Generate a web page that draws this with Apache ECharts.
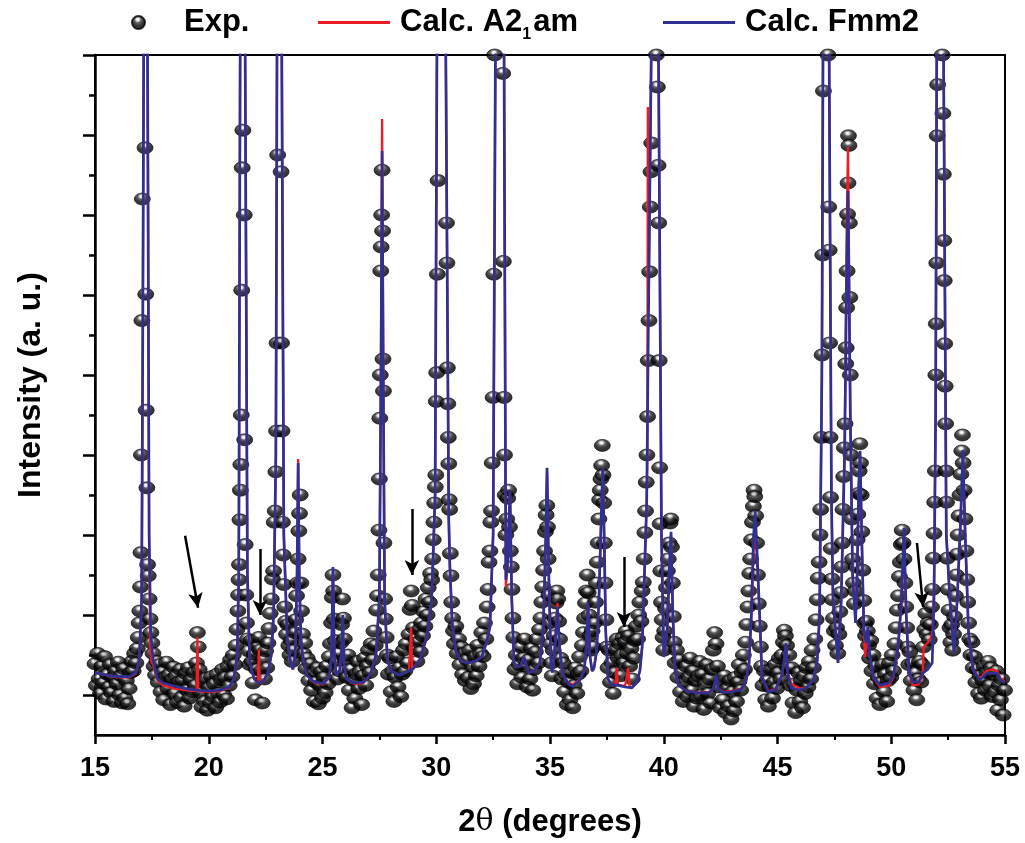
<!DOCTYPE html>
<html><head><meta charset="utf-8">
<script src="https://cdn.jsdelivr.net/npm/echarts@6/dist/echarts.min.js"></script>
<style>html,body{margin:0;padding:0;background:#fff}#c{width:1025px;height:843px}</style>
</head><body><div id="c"></div><script>
const xTickValues = [15,20,25,30,35,40,45,50,55];
const yMajorTicks = [0,10,20,30,40,50,60,70,80];
const yMinorTicks = [5,15,25,35,45,55,65,75];

const expData = [[15.00,3.9],[15.06,1.2],[15.12,5.2],[15.18,2.0],[15.24,0.2],[15.30,3.6],[15.36,1.5],[15.42,4.8],[15.48,-0.5],[15.54,2.6],[15.60,1.0],[15.66,3.8],[15.72,0.3],[15.78,2.2],[15.84,-0.8],[15.90,3.0],[15.96,1.4],[16.02,4.1],[16.08,0.0],[16.14,2.4],[16.20,-1.0],[16.26,3.3],[16.32,-0.4],[16.38,1.8],[16.44,-1.1],[16.50,0.8],[16.56,2.8],[16.62,4.2],[16.68,3.0],[16.74,5.2],[16.80,4.0],[16.86,5.8],[16.90,7.2],[16.94,9.0],[16.97,10.5],[17.00,13.5],[17.02,17.8],[17.04,30.0],[17.06,46.8],[17.08,62.0],[17.11,88],[17.14,105],[17.17,96],[17.20,68.4],[17.23,50.1],[17.25,35.6],[17.28,25.9],[17.31,16.3],[17.34,14.9],[17.38,12.0],[17.42,9.5],[17.46,7.8],[17.50,6.5],[17.55,5.2],[17.60,3.6],[17.66,2.5],[17.72,4.2],[17.78,1.6],[17.84,3.8],[17.90,0.4],[17.96,2.9],[18.02,-0.6],[18.08,2.2],[18.14,4.1],[18.20,0.8],[18.26,2.6],[18.32,-1.2],[18.38,1.9],[18.44,3.5],[18.50,0.2],[18.56,2.4],[18.62,-0.9],[18.68,1.6],[18.74,3.2],[18.80,-0.3],[18.86,1.8],[18.92,-1.4],[18.98,2.7],[19.04,0.6],[19.10,3.4],[19.16,-0.4],[19.22,1.9],[19.28,0.4],[19.34,2.8],[19.40,1.2],[19.46,4.0],[19.50,7.8],[19.54,6.0],[19.58,3.2],[19.64,0.3],[19.70,-1.5],[19.76,1.6],[19.82,-0.8],[19.88,2.1],[19.94,-1.9],[20.00,0.9],[20.06,-1.0],[20.12,2.3],[20.18,-0.2],[20.24,1.4],[20.30,-1.6],[20.36,2.6],[20.42,0.2],[20.48,-0.9],[20.54,1.9],[20.60,3.2],[20.66,0.0],[20.72,2.2],[20.78,-0.5],[20.84,3.6],[20.90,1.2],[20.96,4.4],[21.02,2.3],[21.08,5.0],[21.14,3.8],[21.20,6.2],[21.24,8.2],[21.28,10.5],[21.31,12.5],[21.33,14.4],[21.35,16.3],[21.37,21.9],[21.39,25.6],[21.41,28.8],[21.43,35.0],[21.45,50.6],[21.47,65.9],[21.50,70.6],[21.53,95],[21.56,60.0],[21.58,31.9],[21.60,18.8],[21.63,12.5],[21.66,9.0],[21.70,7.0],[21.75,5.5],[21.80,3.8],[21.86,6.8],[21.90,4.2],[21.95,1.5],[22.00,5.1],[22.05,-0.6],[22.10,3.2],[22.15,6.0],[22.20,7.2],[22.25,5.6],[22.30,3.0],[22.35,-1.0],[22.40,4.5],[22.45,2.0],[22.50,5.5],[22.55,3.4],[22.60,6.5],[22.65,8.3],[22.70,10.2],[22.75,12.0],[22.80,14.5],[22.85,15.5],[22.88,21.6],[22.92,23.0],[22.95,27.9],[22.98,33.0],[23.00,44.0],[23.03,67.5],[23.06,95],[23.10,120],[23.14,90],[23.18,65.4],[23.20,44.0],[23.22,33.0],[23.24,21.6],[23.27,17.5],[23.30,13.8],[23.34,11.0],[23.38,9.2],[23.42,7.6],[23.47,8.8],[23.52,6.2],[23.57,5.0],[23.62,6.8],[23.67,4.2],[23.72,5.6],[23.77,7.8],[23.82,9.4],[23.86,12.4],[23.90,14.0],[23.93,17.0],[23.96,20.5],[23.99,22.7],[24.02,25.0],[24.05,14.0],[24.08,10.5],[24.12,7.6],[24.17,5.2],[24.22,6.5],[24.27,3.3],[24.33,4.6],[24.40,1.8],[24.46,3.9],[24.52,0.6],[24.58,2.8],[24.64,-0.8],[24.70,1.6],[24.76,3.4],[24.82,-1.1],[24.88,1.2],[24.94,2.9],[25.00,-0.4],[25.06,2.2],[25.12,0.3],[25.18,3.6],[25.24,1.4],[25.30,4.8],[25.35,6.4],[25.40,9.0],[25.43,12.2],[25.46,15.0],[25.49,13.0],[25.52,9.5],[25.56,6.8],[25.60,4.2],[25.65,2.0],[25.70,5.2],[25.75,3.0],[25.80,6.5],[25.84,8.8],[25.88,12.0],[25.92,9.6],[25.96,7.0],[26.00,4.4],[26.06,2.2],[26.12,5.0],[26.18,0.6],[26.24,3.2],[26.30,-1.6],[26.36,1.8],[26.42,-0.4],[26.48,2.6],[26.54,4.2],[26.60,0.8],[26.66,3.0],[26.72,-1.2],[26.78,2.4],[26.84,4.6],[26.90,1.2],[26.96,3.6],[27.02,5.6],[27.08,2.8],[27.14,6.4],[27.20,4.4],[27.26,8.0],[27.32,6.2],[27.38,10.6],[27.42,12.4],[27.45,15.0],[27.48,20.6],[27.50,27.0],[27.52,34.6],[27.54,40.0],[27.56,53.0],[27.58,56.0],[27.60,60.0],[27.62,65.6],[27.64,58.0],[27.66,42.0],[27.68,38.0],[27.70,19.0],[27.73,12.0],[27.76,9.5],[27.80,7.2],[27.85,5.0],[27.90,2.6],[27.96,4.6],[28.02,0.4],[28.08,3.0],[28.14,-0.8],[28.20,2.2],[28.26,4.8],[28.32,1.0],[28.38,3.4],[28.44,-0.2],[28.50,2.6],[28.56,5.6],[28.62,3.0],[28.68,6.4],[28.74,4.0],[28.80,7.6],[28.85,10.7],[28.90,13.0],[28.95,11.2],[29.00,8.4],[29.05,5.8],[29.10,7.0],[29.15,4.2],[29.20,6.6],[29.25,8.2],[29.30,5.4],[29.35,9.0],[29.40,7.4],[29.45,10.4],[29.50,8.6],[29.55,12.0],[29.60,10.0],[29.65,13.4],[29.70,11.6],[29.75,15.2],[29.80,14.4],[29.84,17.0],[29.87,19.4],[29.90,21.6],[29.93,24.0],[29.96,26.0],[29.98,27.5],[30.00,36.7],[30.02,40.3],[30.05,52.6],[30.08,64.3],[30.15,95],[30.25,110],[30.35,90],[30.45,59.0],[30.47,54.0],[30.49,40.9],[30.51,36.4],[30.53,32.2],[30.55,28.9],[30.57,24.4],[30.59,23.2],[30.62,17.7],[30.65,14.9],[30.68,11.6],[30.72,9.6],[30.76,8.0],[30.80,6.4],[30.86,8.6],[30.92,5.2],[30.98,7.0],[31.04,3.8],[31.10,6.0],[31.16,2.6],[31.22,5.2],[31.28,1.8],[31.34,4.4],[31.40,2.2],[31.46,5.6],[31.52,0.8],[31.58,3.6],[31.64,1.4],[31.70,4.8],[31.76,2.4],[31.82,6.2],[31.88,3.6],[31.94,5.2],[32.00,7.8],[32.06,4.8],[32.12,9.0],[32.18,7.0],[32.24,11.0],[32.28,13.2],[32.32,16.6],[32.36,18.0],[32.40,21.6],[32.43,23.0],[32.46,29.0],[32.50,37.2],[32.53,52.6],[32.57,80.0],[32.65,100],[32.75,120],[32.85,100],[32.92,77.7],[32.95,54.2],[32.98,37.2],[33.00,30.0],[33.03,25.0],[33.06,20.0],[33.10,22.0],[33.14,24.6],[33.18,25.6],[33.22,21.0],[33.26,18.0],[33.30,16.0],[33.33,13.2],[33.37,9.6],[33.41,7.2],[33.46,3.2],[33.52,5.0],[33.58,1.4],[33.64,3.8],[33.70,6.0],[33.76,2.2],[33.82,4.6],[33.88,7.0],[33.94,3.6],[34.00,1.0],[34.06,4.4],[34.12,2.0],[34.18,5.8],[34.24,0.6],[34.30,3.2],[34.36,5.4],[34.42,7.0],[34.48,4.0],[34.54,8.2],[34.60,9.6],[34.64,11.6],[34.68,13.5],[34.72,15.6],[34.76,18.0],[34.80,20.4],[34.83,22.5],[34.86,23.7],[34.89,21.0],[34.92,17.0],[34.95,12.5],[34.98,9.0],[35.02,6.4],[35.06,4.0],[35.10,2.4],[35.14,5.6],[35.18,7.4],[35.22,9.6],[35.26,11.5],[35.30,13.0],[35.34,12.0],[35.38,9.2],[35.42,7.0],[35.47,4.6],[35.52,2.0],[35.58,4.0],[35.64,0.4],[35.70,2.6],[35.76,-1.2],[35.82,1.6],[35.88,-0.6],[35.94,2.8],[36.00,-1.6],[36.06,1.2],[36.12,3.4],[36.18,0.2],[36.24,2.6],[36.30,4.8],[36.36,3.0],[36.42,6.2],[36.47,7.8],[36.52,9.6],[36.56,11.5],[36.60,13.0],[36.64,15.0],[36.68,12.8],[36.72,10.0],[36.76,7.4],[36.80,5.6],[36.85,8.0],[36.90,6.0],[36.95,9.0],[37.00,11.6],[37.04,14.0],[37.08,16.6],[37.12,19.0],[37.15,22.0],[37.18,24.4],[37.21,25.6],[37.24,27.0],[37.27,28.7],[37.30,31.2],[37.33,27.5],[37.36,24.0],[37.39,19.0],[37.42,14.0],[37.46,9.4],[37.50,6.0],[37.55,3.4],[37.60,5.6],[37.66,1.6],[37.72,4.0],[37.78,0.2],[37.84,2.8],[37.90,5.6],[37.95,7.0],[38.00,4.6],[38.05,6.4],[38.10,2.4],[38.15,5.0],[38.20,7.2],[38.25,4.0],[38.30,6.6],[38.35,8.0],[38.40,5.2],[38.45,7.4],[38.50,3.6],[38.56,5.8],[38.62,2.0],[38.68,4.6],[38.74,6.8],[38.80,8.6],[38.85,7.0],[38.90,10.0],[38.95,11.6],[39.00,9.2],[39.05,13.0],[39.10,14.1],[39.14,17.0],[39.17,20.3],[39.20,23.0],[39.23,26.6],[39.26,30.0],[39.29,34.8],[39.32,41.8],[39.35,46.8],[39.38,52.9],[39.41,61.0],[39.44,65.4],[39.47,69.0],[39.52,90],[39.60,110],[39.68,80.0],[39.72,76.0],[39.75,66.2],[39.78,59.0],[39.80,41.8],[39.82,28.4],[39.84,21.4],[39.87,15.5],[39.90,11.6],[39.93,9.4],[39.97,7.2],[40.00,5.6],[40.04,8.0],[40.08,10.8],[40.12,13.4],[40.16,15.5],[40.20,17.0],[40.24,19.0],[40.28,21.5],[40.31,22.0],[40.34,18.5],[40.38,14.0],[40.42,9.8],[40.46,6.6],[40.50,4.0],[40.56,5.6],[40.62,2.2],[40.68,4.4],[40.74,0.4],[40.80,2.8],[40.86,-0.8],[40.92,1.6],[40.98,3.6],[41.04,-0.2],[41.10,2.2],[41.16,4.6],[41.22,0.6],[41.28,3.0],[41.34,-1.4],[41.40,1.8],[41.46,-0.4],[41.52,2.4],[41.58,4.2],[41.64,0.0],[41.70,2.6],[41.76,-1.8],[41.82,1.4],[41.88,3.8],[41.94,0.2],[42.00,2.0],[42.06,-1.0],[42.12,3.2],[42.18,5.6],[42.24,7.8],[42.30,6.4],[42.36,3.6],[42.42,1.0],[42.48,-1.6],[42.54,1.8],[42.60,-0.6],[42.66,2.4],[42.72,-2.2],[42.78,0.8],[42.84,-1.4],[42.90,1.8],[42.96,-3.0],[43.02,0.4],[43.08,-2.0],[43.14,2.2],[43.20,-0.8],[43.26,1.6],[43.32,3.8],[43.38,0.6],[43.44,2.8],[43.50,5.0],[43.55,3.2],[43.60,6.6],[43.65,8.8],[43.70,11.0],[43.74,13.0],[43.78,15.2],[43.82,17.0],[43.86,19.4],[43.90,21.6],[43.94,23.6],[43.97,25.6],[44.00,24.8],[44.04,22.4],[44.08,19.0],[44.12,15.0],[44.16,11.4],[44.20,8.6],[44.25,6.0],[44.30,3.6],[44.36,1.2],[44.42,3.0],[44.48,-0.6],[44.54,1.8],[44.60,-1.4],[44.66,1.0],[44.72,3.2],[44.78,-0.4],[44.84,1.6],[44.90,3.8],[44.96,0.8],[45.02,2.8],[45.08,4.6],[45.14,2.0],[45.20,5.0],[45.26,6.6],[45.30,8.1],[45.35,7.4],[45.40,6.2],[45.45,3.4],[45.50,5.0],[45.56,1.2],[45.62,3.4],[45.68,-1.0],[45.74,1.4],[45.80,-2.2],[45.86,0.6],[45.92,2.8],[45.98,-0.8],[46.04,1.8],[46.10,-1.6],[46.16,2.4],[46.22,0.2],[46.28,3.4],[46.34,1.0],[46.40,4.2],[46.46,2.0],[46.52,5.6],[46.58,3.4],[46.64,7.0],[46.70,9.4],[46.75,11.9],[46.79,14.6],[46.83,16.6],[46.87,20.0],[46.90,23.2],[46.93,32.2],[46.96,42.5],[46.99,55.0],[47.02,75.5],[47.06,95],[47.12,115],[47.18,95],[47.22,80.0],[47.25,61.0],[47.27,55.6],[47.29,44.0],[47.31,32.2],[47.33,24.7],[47.36,18.3],[47.39,14.5],[47.42,11.9],[47.46,9.6],[47.50,8.0],[47.55,6.2],[47.60,8.4],[47.65,5.2],[47.70,7.6],[47.74,10.4],[47.78,12.8],[47.82,16.0],[47.85,19.0],[47.88,23.2],[47.91,27.3],[47.94,30.9],[47.97,33.9],[48.00,41.4],[48.02,43.4],[48.04,48.4],[48.06,53.0],[48.08,60.1],[48.10,64.0],[48.12,69.9],[48.14,68.7],[48.16,59.0],[48.18,49.7],[48.20,40.0],[48.23,30.0],[48.26,22.0],[48.30,17.0],[48.34,14.0],[48.38,11.4],[48.42,13.0],[48.46,16.0],[48.50,19.4],[48.53,22.6],[48.56,25.2],[48.59,28.0],[48.62,31.4],[48.65,29.0],[48.68,25.0],[48.71,20.4],[48.75,15.6],[48.79,11.8],[48.83,9.0],[48.87,7.4],[48.91,9.2],[48.95,8.0],[49.00,6.2],[49.05,4.6],[49.10,6.8],[49.15,3.0],[49.20,5.0],[49.26,1.4],[49.32,3.6],[49.38,-0.4],[49.44,2.2],[49.50,-1.2],[49.56,1.6],[49.62,3.8],[49.68,0.4],[49.74,2.6],[49.80,-0.8],[49.86,1.8],[49.92,4.0],[49.98,2.2],[50.04,5.0],[50.10,3.0],[50.16,6.4],[50.22,8.4],[50.27,10.6],[50.32,12.4],[50.36,14.8],[50.40,16.6],[50.44,18.8],[50.48,20.6],[50.52,19.0],[50.56,17.0],[50.60,14.0],[50.64,11.0],[50.68,8.4],[50.72,6.0],[50.77,3.8],[50.82,5.4],[50.88,1.8],[50.94,4.0],[51.00,0.6],[51.06,2.8],[51.12,-0.6],[51.18,2.0],[51.24,4.2],[51.30,1.6],[51.36,3.8],[51.42,6.0],[51.47,8.2],[51.52,10.2],[51.57,7.6],[51.62,9.0],[51.67,6.9],[51.72,8.8],[51.77,11.0],[51.81,13.2],[51.85,17.1],[51.88,20.2],[51.91,24.1],[51.94,28.0],[51.96,40.0],[51.98,46.4],[52.00,54.0],[52.02,69.9],[52.04,76.3],[52.08,95],[52.14,115],[52.20,95],[52.24,80.0],[52.27,72.7],[52.29,65.1],[52.31,56.8],[52.33,51.8],[52.35,43.9],[52.37,38.6],[52.39,33.9],[52.41,28.0],[52.43,24.1],[52.46,17.1],[52.50,13.2],[52.54,10.6],[52.58,8.4],[52.62,6.6],[52.66,8.8],[52.70,5.6],[52.74,7.6],[52.78,9.8],[52.82,12.4],[52.86,15.0],[52.90,17.6],[52.94,20.0],[52.98,22.4],[53.02,25.0],[53.06,27.6],[53.10,30.5],[53.13,32.5],[53.16,29.0],[53.20,25.6],[53.24,22.0],[53.28,18.0],[53.32,14.4],[53.36,11.6],[53.40,9.0],[53.45,7.0],[53.50,5.0],[53.55,6.6],[53.60,3.4],[53.66,4.8],[53.72,1.6],[53.78,3.2],[53.84,0.2],[53.90,2.4],[53.96,-0.4],[54.02,1.8],[54.08,3.6],[54.14,0.6],[54.20,2.8],[54.26,4.2],[54.32,1.2],[54.38,3.4],[54.44,-0.2],[54.50,2.6],[54.56,0.4],[54.62,3.0],[54.68,-1.9],[54.74,1.2],[54.80,-0.6],[54.86,2.0],[54.92,-2.5],[54.98,0.6]];

const calcF = [[15.00,2.8],[15.50,2.5],[16.00,2.3],[16.50,2.3],[16.80,2.8],[16.95,4.5],[17.05,12],[17.10,45],[17.14,80],[17.22,140],[17.31,80],[17.38,20],[17.45,8],[17.55,4.4],[17.75,2],[18.00,1.5],[18.50,1.1],[19.00,0.8],[19.50,0.6],[20.00,0.5],[20.50,0.6],[20.90,1.0],[21.10,2.0],[21.25,5],[21.32,15],[21.38,80],[21.49,160],[21.60,80],[21.70,15],[21.80,4],[22.00,2.0],[22.20,1.5],[22.40,1.7],[22.60,2.8],[22.75,5],[22.85,10],[22.95,30],[23.00,80],[23.10,160],[23.21,80],[23.30,20],[23.45,7],[23.60,4],[23.70,3.2],[23.80,5],[23.88,15],[23.93,29],[23.98,15],[24.05,7],[24.15,4.4],[24.30,2.5],[24.60,1.7],[25.00,1.4],[25.30,2.2],[25.40,5],[25.46,16],[25.52,5],[25.60,2.5],[25.75,3],[25.84,5],[25.89,10],[25.94,4],[26.05,2],[26.40,1.5],[26.80,1.6],[27.10,2.5],[27.35,5],[27.50,12],[27.57,40],[27.62,68],[27.67,40],[27.73,12],[27.85,4.5],[28.00,3],[28.40,2.5],[28.80,3.0],[29.00,3.3],[29.30,4.5],[29.60,7.5],[29.80,12],[29.95,25],[30.03,80],[30.23,200],[30.42,80],[30.55,22],[30.60,16],[30.70,9],[30.85,5.5],[31.10,4.2],[31.40,4],[31.70,4.2],[32.00,4.75],[32.20,6.5],[32.36,8.5],[32.50,20],[32.60,80],[32.80,200],[32.98,80],[33.06,14.4],[33.15,17],[33.24,25.5],[33.32,12],[33.42,4],[33.55,3.5],[33.70,3.6],[33.85,4.75],[34.05,2.8],[34.30,3],[34.55,4],[34.70,8],[34.80,18],[34.87,28.4],[34.94,16],[35.04,4],[35.10,2.8],[35.20,5],[35.28,9],[35.33,11],[35.42,6],[35.55,2.7],[35.80,1.4],[36.00,1.1],[36.30,1.8],[36.50,3],[36.60,6],[36.67,11.6],[36.75,5],[36.85,3],[36.93,3.3],[37.05,5.5],[37.15,11.9],[37.25,22],[37.32,28.4],[37.38,20],[37.45,8],[37.55,2],[37.70,1.3],[38.00,1.2],[38.30,1.0],[38.60,0.9],[38.80,1.5],[38.95,3],[39.05,6],[39.15,15],[39.25,24],[39.32,45],[39.45,80],[39.60,200],[39.77,80],[39.90,20],[40.00,4.75],[40.15,8],[40.25,16],[40.32,20.4],[40.40,10],[40.50,3],[40.65,1.2],[41.00,0.5],[41.50,0.25],[42.00,0.3],[42.20,0.8],[42.30,2.5],[42.40,0.8],[42.60,0.3],[43.00,0.4],[43.40,0.7],[43.60,1.5],[43.75,4],[43.85,10],[43.95,20],[44.02,23],[44.10,18],[44.22,9.75],[44.32,2.25],[44.60,0.4],[44.90,0.6],[45.20,2.5],[45.30,4.5],[45.37,6.5],[45.45,2.75],[45.60,0.9],[46.00,0.6],[46.30,1.0],[46.60,2.0],[46.75,4.4],[46.85,10],[46.95,40],[47.00,80],[47.13,200],[47.27,80],[47.37,25],[47.44,11.9],[47.66,4],[47.80,11.9],[47.95,30],[48.05,55],[48.10,63],[48.20,35],[48.30,15],[48.43,9],[48.50,15],[48.57,26],[48.63,30.5],[48.70,20],[48.80,8],[48.90,6.5],[48.97,8.5],[49.05,5],[49.20,2.25],[49.50,1.2],[49.90,1.5],[50.10,2.5],[50.30,6],[50.45,12],[50.56,20.9],[50.66,10],[50.78,3],[50.95,1.6],[51.20,1.6],[51.40,2.75],[51.60,3.2],[51.80,4],[51.88,12],[51.95,35],[52.00,80],[52.15,200],[52.30,80],[52.42,20],[52.58,11.9],[52.76,5.2],[52.90,11.9],[53.05,22],[53.15,30.6],[53.25,20],[53.40,7.75],[53.60,3.1],[53.90,1.9],[54.20,2.7],[54.45,2.7],[54.65,2.7],[54.80,1.9],[55.00,1.5]];

const calcA = [[15.00,2.8],[15.50,2.5],[16.00,2.2],[16.50,2.2],[16.80,2.7],[16.95,4.4],[17.05,12],[17.10,45],[17.14,80],[17.22,140],[17.31,80],[17.38,18],[17.43,5],[17.45,7.5],[17.47,4.2],[17.55,3.8],[17.75,1.8],[18.00,1.2],[18.50,0.8],[19.00,0.6],[19.46,0.5],[19.50,7.25],[19.54,0.5],[20.00,0.4],[20.50,0.5],[20.90,0.9],[21.10,2.0],[21.25,5],[21.32,15],[21.38,80],[21.49,160],[21.60,80],[21.70,15],[21.80,4],[22.00,2.0],[22.16,1.5],[22.20,5.7],[22.24,1.5],[22.40,1.7],[22.60,2.8],[22.75,5],[22.85,10],[22.95,30],[23.00,80],[23.10,160],[23.21,80],[23.30,20],[23.45,7],[23.60,4],[23.70,3.2],[23.80,5],[23.88,15],[23.93,29.5],[23.98,15],[24.05,7],[24.15,4.4],[24.30,2.5],[24.60,1.6],[25.00,1.3],[25.30,2.2],[25.40,5],[25.46,15.5],[25.52,5],[25.60,2.5],[25.75,3],[25.84,5],[25.89,10],[25.94,4],[26.05,2],[26.40,1.4],[26.80,1.5],[27.10,2.5],[27.35,5],[27.50,12],[27.57,42],[27.62,72],[27.67,42],[27.73,12],[27.85,4.5],[28.00,3],[28.40,2.5],[28.80,3.0],[28.86,3.1],[28.90,8.4],[28.94,3.2],[29.00,3.3],[29.30,4.5],[29.60,7.5],[29.80,12],[29.95,25],[30.03,80],[30.23,200],[30.42,80],[30.55,22],[30.60,16],[30.70,9],[30.85,5.5],[31.10,4.2],[31.40,4],[31.70,4.2],[32.00,4.75],[32.20,6.5],[32.36,8.5],[32.50,20],[32.60,80],[32.80,200],[32.98,80],[33.06,13.5],[33.15,17],[33.24,25.5],[33.32,12],[33.42,4],[33.55,3.5],[33.70,3.6],[33.85,4.75],[34.05,2.8],[34.30,3],[34.55,4],[34.70,8],[34.80,18],[34.87,27.9],[34.94,16],[35.04,4],[35.10,2.8],[35.20,5],[35.28,9.5],[35.33,11.5],[35.42,6],[35.55,2.7],[35.80,1.5],[36.00,1.3],[36.30,1.9],[36.50,3],[36.60,6],[36.67,11.4],[36.75,5],[36.85,3],[36.93,3.3],[37.05,5.5],[37.15,11.9],[37.25,22],[37.32,28.2],[37.38,20],[37.45,8],[37.55,2],[37.70,1.3],[37.88,1.3],[37.93,3.4],[37.99,1.3],[38.30,1.1],[38.38,1.1],[38.44,3.4],[38.50,1.0],[38.60,0.9],[38.80,1.5],[38.95,3],[39.05,6],[39.15,15],[39.25,24],[39.28,30],[39.30,73.5],[39.33,48],[39.45,80],[39.60,200],[39.77,80],[39.90,20],[40.00,4.75],[40.15,8],[40.25,16],[40.32,20],[40.40,10],[40.50,3],[40.65,1.2],[41.00,0.5],[41.50,0.3],[42.00,0.4],[42.20,0.8],[42.30,2.3],[42.40,0.8],[42.60,0.4],[43.00,0.5],[43.40,0.8],[43.60,1.5],[43.75,4],[43.85,9.5],[43.95,18.5],[44.02,21],[44.10,17],[44.22,9.5],[44.32,2.25],[44.60,0.5],[44.90,0.7],[45.20,2.5],[45.30,4.4],[45.37,6.3],[45.45,2.9],[45.60,1.4],[46.00,0.8],[46.30,1.0],[46.60,2.0],[46.75,4.4],[46.85,10],[46.95,40],[47.00,80],[47.13,200],[47.27,80],[47.37,25],[47.44,11.9],[47.66,4],[47.80,11.9],[47.95,31],[48.05,60],[48.10,68.5],[48.20,36],[48.30,15],[48.43,9.5],[48.50,15],[48.57,26],[48.63,30],[48.70,20],[48.80,8],[48.85,4.75],[48.97,8],[49.05,5],[49.20,2.25],[49.50,1.0],[49.90,1.2],[50.10,2.3],[50.30,5.8],[50.45,11.5],[50.56,19.8],[50.66,9.5],[50.78,2.8],[50.95,1.2],[51.20,1.3],[51.38,2.5],[51.42,6],[51.60,6.5],[51.75,7.25],[51.82,8],[51.88,14],[51.95,35],[52.00,80],[52.15,200],[52.30,80],[52.42,20],[52.58,11.9],[52.76,5.2],[52.90,11.9],[53.05,22],[53.15,29.5],[53.25,20],[53.40,7.75],[53.60,3.1],[53.90,2.1],[54.20,3.0],[54.45,3.2],[54.65,3.0],[54.80,2.1],[55.00,1.6]];

const arrowCoords = [[[18.96,19.9],[19.53,10.9]],[[22.25,18.25],[22.25,10.0]],[[28.93,23.25],[28.93,15.0]],[[38.25,17.25],[38.25,8.5]],[[51.13,19.0],[51.40,11.0]]];

const FONT = '"Liberation Sans", Arial, Helvetica, sans-serif';
const ball = {type:'radial', x:0.45, y:0.3, r:0.75, colorStops:[
  {offset:0,color:'#ffffff'},{offset:0.12,color:'#e6e6e6'},{offset:0.3,color:'#3a3a3a'},{offset:0.55,color:'#050505'},{offset:1,color:'#000000'}]};
const RED = '#ed1c24', BLUE = '#2e3192';
const legendText = {fontFamily:FONT, fontWeight:'bold', fontSize:31, color:'#000'};

const chart = echarts.init(document.getElementById('c'), null, {renderer:'canvas'});
chart.setOption({
  animation:false,
  backgroundColor:'#fff',
  grid:{left:95,right:20,top:55,bottom:108,show:true,borderColor:'#000',borderWidth:2,backgroundColor:'transparent'},
  legend:[
    {data:[{name:'Exp.',icon:'circle'}], left:126, top:2, itemWidth:13, itemHeight:15, selectedMode:false,
     formatter:n=>'{e|'+n+'}', textStyle:{rich:{e:Object.assign({padding:[0,0,0,34],lineHeight:40},legendText)}}},
    {data:[{name:'Calc. A2₁am'}], left:313, top:2, itemWidth:72, itemHeight:3, icon:'rect', selectedMode:false,
     formatter:()=>'{b|Calc. A2}{s|1}{c|am}',
     textStyle:{rich:{b:Object.assign({lineHeight:40,padding:[0,0,0,5]},legendText),
       c:Object.assign({lineHeight:40,padding:[0,0,0,2]},legendText),
       s:{fontFamily:FONT,fontWeight:'bold',fontSize:16,color:'#000',lineHeight:16,verticalAlign:'bottom'}}}},
    {data:[{name:'Calc. Fmm2'}], left:658, top:2, itemWidth:72, itemHeight:3, icon:'rect', selectedMode:false,
     formatter:n=>'{b|'+n+'}', textStyle:{rich:{b:Object.assign({lineHeight:40,padding:[0,0,0,5]},legendText)}}}
  ],
  xAxis:{type:'value', min:15, max:55, interval:5,
    axisLine:{onZero:false, lineStyle:{color:'#000',width:2.5}},
    axisTick:{show:true, inside:false, length:9, lineStyle:{color:'#000',width:2.5}},
    minorTick:{show:true, splitNumber:2, length:5, lineStyle:{color:'#000',width:2}},
    splitLine:{show:false}, minorSplitLine:{show:false},
    axisLabel:{margin:20, color:'#000', fontSize:27, fontWeight:'bold', fontFamily:FONT, showMinLabel:true, showMaxLabel:true},
    name:'{n|2}{t|θ}{n| (degrees)}', nameLocation:'middle', nameGap:72,
    nameTextStyle:{rich:{n:{fontFamily:FONT,fontWeight:'bold',fontSize:31,color:'#000'},t:{fontFamily:'"DejaVu Serif", "Liberation Serif", serif',fontSize:30,color:'#000'}}}
  },
  yAxis:[
    {type:'value', min:-5, max:80, position:'left',
     axisLine:{show:true, onZero:false, lineStyle:{color:'#000',width:2.5}},
     axisTick:{show:true, inside:false, length:12, customValues:yMajorTicks, lineStyle:{color:'#000',width:2.5}},
     axisLabel:{show:false}, splitLine:{show:false},
     name:'Intensity (a. u.)', nameLocation:'middle', nameGap:48,
     nameTextStyle:{fontFamily:FONT,fontWeight:'bold',fontSize:32,color:'#000',padding:[0,0,0,20]}},
    {type:'value', min:-5, max:80, position:'left', offset:0,
     axisLine:{show:false, onZero:false},
     axisTick:{show:true, inside:false, length:6, customValues:yMinorTicks, lineStyle:{color:'#000',width:2.5}},
     axisLabel:{show:false}, splitLine:{show:false}}
  ],
  series:[
    {name:'Exp.', type:'scatter', data:expData, symbol:'circle', symbolSize:[16,12], z:2,
     itemStyle:{color:ball, borderColor:'#000', borderWidth:0.8}, clip:true, silent:true},
    {name:'Calc. A2₁am', type:'line', data:calcA, symbol:'none', showSymbol:false, z:3, color:RED,
     lineStyle:{color:RED,width:2.3}, clip:true, silent:true},
    {name:'Calc. Fmm2', type:'line', data:calcF, symbol:'none', showSymbol:false, z:4, color:BLUE,
     lineStyle:{color:BLUE,width:2.7}, clip:true, silent:true,
     markLine:{silent:true, symbol:['none','arrow'], symbolSize:[11,15], animation:false,
       lineStyle:{color:'#000',width:2.5,type:'solid'}, label:{show:false},
       data:arrowCoords.map(a=>[{coord:a[0]},{coord:a[1]}])}}
  ]
});
</script></body></html>
